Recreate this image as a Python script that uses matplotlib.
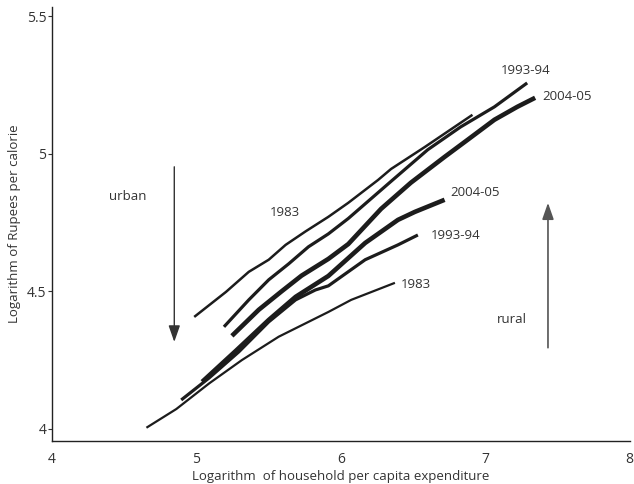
import matplotlib
matplotlib.use("Agg")
import matplotlib.pyplot as plt

plt.rcParams["font.family"] = ["Open Sans", "DejaVu Sans"]

# log per-capita expenditure (x) vs log Rupees per calorie (y)
urban_1983_x = [4.985, 5.205, 5.363, 5.501, 5.618, 5.756, 5.914, 6.052, 6.258, 6.348, 6.582, 6.830, 6.912]
urban_1983_y = [4.407, 4.498, 4.571, 4.615, 4.669, 4.718, 4.771, 4.822, 4.905, 4.945, 5.025, 5.113, 5.142]

urban_9394_x = [5.191, 5.363, 5.501, 5.639, 5.776, 5.914, 6.052, 6.348, 6.602, 6.830, 7.064, 7.291]
urban_9394_y = [4.371, 4.469, 4.542, 4.600, 4.662, 4.709, 4.765, 4.900, 5.015, 5.098, 5.171, 5.258]

urban_0405_x = [5.246, 5.432, 5.590, 5.728, 5.914, 6.052, 6.279, 6.485, 6.719, 6.878, 7.064, 7.222, 7.346]
urban_0405_y = [4.338, 4.433, 4.500, 4.557, 4.618, 4.672, 4.800, 4.895, 4.989, 5.051, 5.124, 5.171, 5.204]

rural_1983_x = [4.654, 4.861, 5.088, 5.315, 5.570, 5.914, 6.072, 6.375]
rural_1983_y = [4.004, 4.072, 4.165, 4.250, 4.335, 4.425, 4.469, 4.531]

rural_9394_x = [4.895, 5.088, 5.294, 5.501, 5.687, 5.824, 5.914, 6.169, 6.396, 6.534]
rural_9394_y = [4.105, 4.185, 4.280, 4.389, 4.469, 4.505, 4.520, 4.615, 4.669, 4.705]

rural_0405_x = [5.040, 5.274, 5.501, 5.687, 5.914, 6.169, 6.396, 6.513, 6.719]
rural_0405_y = [4.171, 4.284, 4.396, 4.480, 4.556, 4.676, 4.760, 4.789, 4.833]

xticks = [4, 5, 6, 7, 8]
yticks = [4, 4.5, 5, 5.5]
ytick_labels = ["4", "4.5", "5", "5.5"]

ink = "#1c1c1c"

fig = plt.figure(figsize=(6.34, 4.84), dpi=100)
ax = fig.add_axes([0.082, 0.089, 0.911, 0.897])

ax.plot(rural_1983_x, rural_1983_y, color=ink, lw=1.6, solid_capstyle="butt")
ax.plot(rural_9394_x, rural_9394_y, color=ink, lw=2.3, solid_capstyle="butt")
ax.plot(rural_0405_x, rural_0405_y, color=ink, lw=3.3, solid_capstyle="butt")
ax.plot(urban_1983_x, urban_1983_y, color=ink, lw=1.8, solid_capstyle="butt")
ax.plot(urban_9394_x, urban_9394_y, color=ink, lw=2.3, solid_capstyle="butt")
ax.plot(urban_0405_x, urban_0405_y, color=ink, lw=3.3, solid_capstyle="butt")

# direction arrows
ax.annotate("", xy=(4.847, 4.316), xytext=(4.847, 4.953),
            arrowprops=dict(arrowstyle="-|>,head_width=0.35,head_length=1.0",
                            color="#333333", lw=1.0, shrinkA=0, shrinkB=0))
ax.annotate("", xy=(7.435, 4.822), xytext=(7.435, 4.295),
            arrowprops=dict(arrowstyle="-|>,head_width=0.35,head_length=1.0",
                            color="#555555", lw=1.2, shrinkA=0, shrinkB=0))

fs = 9.5
tc = "#333333"
ax.text(4.523, 4.844, "urban", fontsize=fs, color=tc, ha="center", va="center")
ax.text(7.188, 4.396, "rural", fontsize=fs, color=tc, ha="center", va="center")
ax.text(5.611, 4.785, "1983", fontsize=fs, color=tc, ha="center", va="center")
ax.text(6.417, 4.526, "1983", fontsize=fs, color=tc, ha="left", va="center")
ax.text(6.623, 4.702, "1993-94", fontsize=fs, color=tc, ha="left", va="center")
ax.text(6.761, 4.858, "2004-05", fontsize=fs, color=tc, ha="left", va="center")
ax.text(7.105, 5.305, "1993-94", fontsize=fs, color=tc, ha="left", va="center")
ax.text(7.394, 5.207, "2004-05", fontsize=fs, color=tc, ha="left", va="center")

ax.set_xlim(4, 8)
ax.set_ylim(3.956, 5.535)
ax.set_xticks(xticks)
ax.set_xticklabels([str(t) for t in xticks])
ax.set_yticks(yticks)
ax.set_yticklabels(ytick_labels)
ax.tick_params(axis="x", length=0, pad=8, labelsize=10, labelcolor=tc)
ax.tick_params(axis="y", length=3, width=0.8, pad=1, labelsize=10, labelcolor=tc, color=tc)

for s in ("top", "right"):
    ax.spines[s].set_visible(False)
for s in ("left", "bottom"):
    ax.spines[s].set_linewidth(1.0)
    ax.spines[s].set_color("#222222")

ax.set_xlabel("Logarithm  of household per capita expenditure", fontsize=9.5,
              color=tc, labelpad=2)
ax.set_ylabel("Logarithm of Rupees per calorie", fontsize=9.5, color=tc, labelpad=4)

fig.savefig("out.png", dpi=100)
